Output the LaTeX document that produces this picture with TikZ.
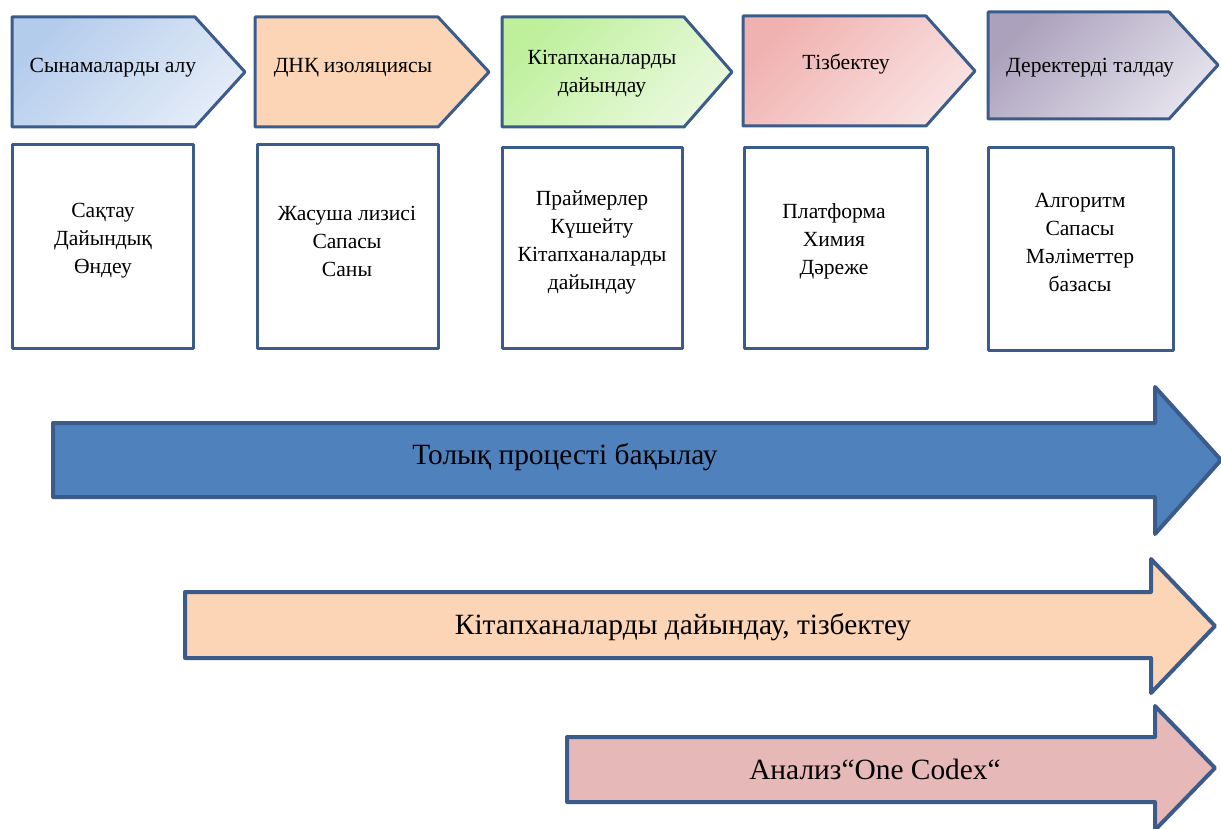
\documentclass[tikz,border=0pt]{standalone}
\usepackage{fontspec}
\setmainfont{Liberation Serif}
\definecolor{edge}{HTML}{3B5C8A}
\definecolor{bluefill}{HTML}{4F81BD}
\definecolor{peach}{HTML}{FBD5B5}
\definecolor{rose}{HTML}{E6B9B8}
\definecolor{cOneA}{HTML}{B4CCEC}
\definecolor{cOneB}{HTML}{E4ECF8}
\definecolor{cThreeA}{HTML}{BEF09C}
\definecolor{cThreeB}{HTML}{EAF9DE}
\definecolor{cFourA}{HTML}{F0B2B0}
\definecolor{cFourB}{HTML}{F9E2E2}
\definecolor{cFiveA}{HTML}{ABA1BC}
\definecolor{cFiveB}{HTML}{E4E2EC}
\begin{document}
\begin{tikzpicture}[x=0.5pt,y=-0.5pt,
  outl/.style={draw=edge, line width=1.5pt, line join=round},
  bigoutl/.style={draw=edge, line width=2pt, line join=round},
  grad/.style 2 args={top color=#1, bottom color=#2, shading angle=45},
  lbl/.style={font=\fontsize{10.8pt}{14pt}\selectfont, align=center, inner sep=0pt},
  biglbl/.style={font=\fontsize{14.7pt}{16pt}\selectfont, align=center, inner sep=0pt}]
\useasboundingbox (0,0) rectangle (1221,829);

% chevrons
\path[outl, grad={cOneA}{cOneB}] (12,17) -- (195,17) -- (245,72) -- (195,127) -- (12,127) -- cycle;
\path[outl, fill=peach] (255,17) -- (438,17) -- (489,72) -- (438,127) -- (255,127) -- cycle;
\path[outl, grad={cThreeA}{cThreeB}] (502,17) -- (684,17) -- (732,72) -- (684,127) -- (502,127) -- cycle;
\path[outl, grad={cFourA}{cFourB}] (743,16) -- (926,16) -- (975,71) -- (926,126) -- (743,126) -- cycle;
\path[outl, grad={cFiveA}{cFiveB}] (988,12) -- (1169,12) -- (1218,65) -- (1169,119) -- (988,119) -- cycle;

\node[lbl] (h1) at (113,68) {Сынамаларды алу};
\node[lbl] (h2) at (353,68) {ДНҚ изоляциясы};
\node[lbl] (h3) at (602,74) {Кітапханаларды\\дайындау};
\node[lbl] (h4) at (846,64) {Тізбектеу};
\node[lbl] (h5) at (1090,68) {Деректерді талдау};

% boxes
\draw[outl, fill=white] (12,145) rectangle (193,348);
\draw[outl, fill=white] (257,145) rectangle (438,348);
\draw[outl, fill=white] (502,148) rectangle (682,348);
\draw[outl, fill=white] (744,148) rectangle (927,348);
\draw[outl, fill=white] (988,148) rectangle (1173,350);

\node[lbl] (b1) at (103,241) {Сақтау\\Дайындық\\Өндеу};
\node[lbl] (b2) at (347,241) {Жасуша лизисі\\Сапасы\\Саны};
\node[lbl] (b3) at (592,242) {Праймерлер\\Күшейту\\Кітапханаларды\\дайындау};
\node[lbl] (b4) at (834,241) {Платформа\\Химия\\Дәреже};
\node[lbl] (b5) at (1080,242) {Алгоритм\\Сапасы\\Мәліметтер\\базасы};

% big arrows
\path[bigoutl, fill=bluefill] (53,423) -- (1155,423) -- (1155,387) -- (1221,460) -- (1155,534) -- (1155,497) -- (53,497) -- cycle;
\path[bigoutl, fill=peach] (185,592) -- (1151,592) -- (1151,559) -- (1215,626) -- (1151,693) -- (1151,658) -- (185,658) -- cycle;
\path[bigoutl, fill=rose] (567,737) -- (1155,737) -- (1155,706) -- (1215,768) -- (1155,830) -- (1155,802) -- (567,802) -- cycle;

\node[biglbl] (a1) at (565,457) {Толық процесті бақылау};
\node[biglbl] (a2) at (683,627) {Кітапханаларды дайындау, тізбектеу};
\node[biglbl] (a3) at (875,769) {Анализ“One Codex“};
\end{tikzpicture}
\end{document}
